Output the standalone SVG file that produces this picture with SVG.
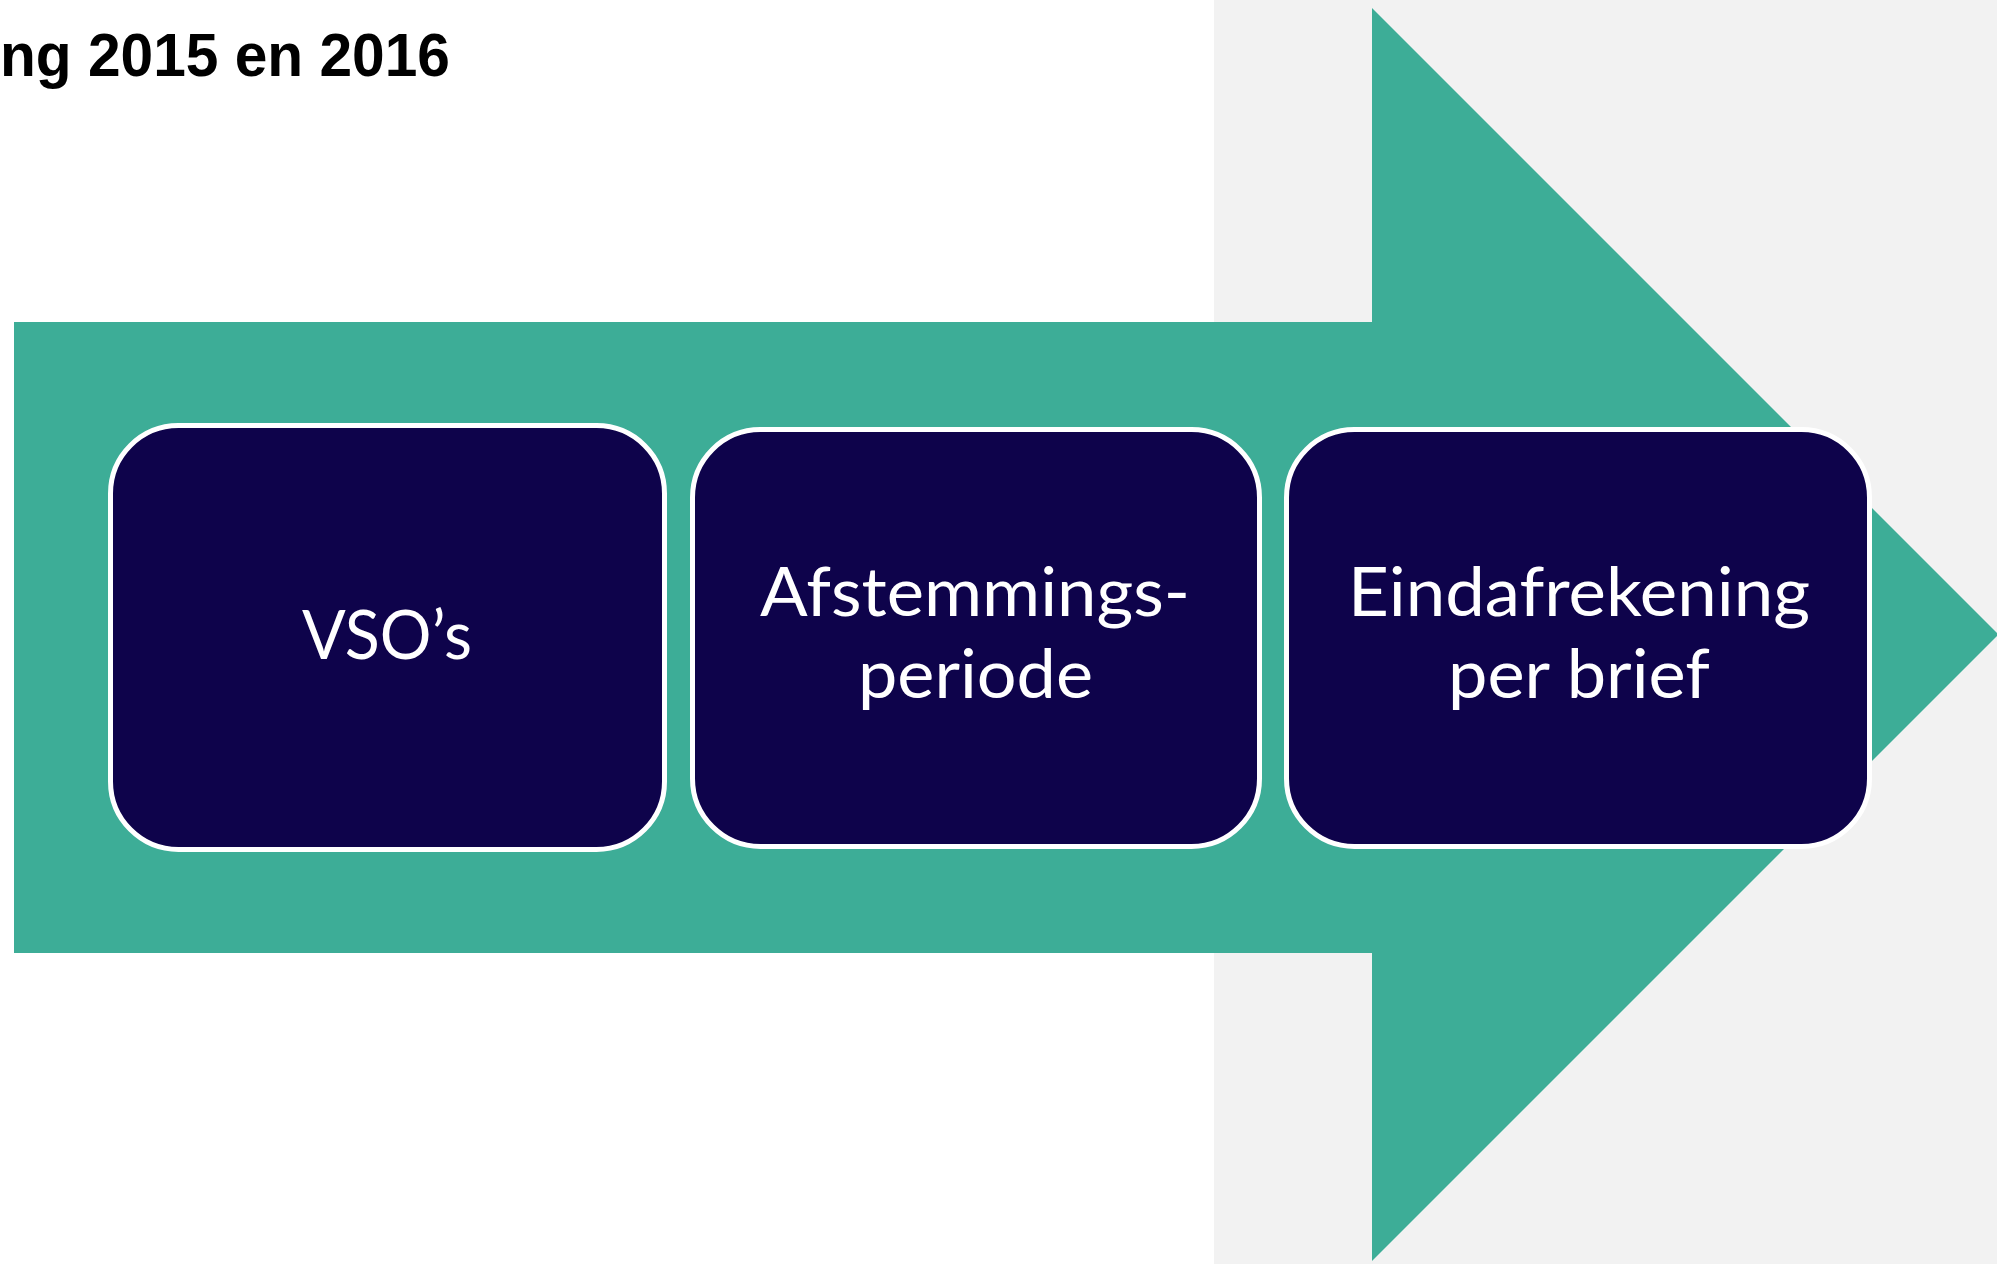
<svg xmlns="http://www.w3.org/2000/svg" width="1997" height="1264" viewBox="0 0 1997 1264">
  <style>
    .box { fill: #0E034B; stroke: #FFFFFF; stroke-width: 5; }
    .lbl { fill: #FFFFFF; font-family: Lato, "Open Sans", "Noto Sans", sans-serif; font-size: 67px; }
    .title { fill: #000000; font-family: "Liberation Sans", Arial, sans-serif; font-weight: bold; font-size: 62px; }
  </style>
  <rect x="0" y="0" width="1997" height="1264" fill="#FFFFFF"/>
  <rect x="1214" y="0" width="783" height="1264" fill="#F2F2F2"/>
  <text class="title" x="0" y="76" textLength="450" lengthAdjust="spacingAndGlyphs">ng 2015 en 2016</text>
  <g id="arrow">
    <polygon points="14,322 1372,322 1372,8 1998.5,634.5 1372,1261 1372,953 14,953" fill="#3DAD97"/>
  </g>
  <g id="connectors"></g>
  <g id="node-vsos">
    <rect class="box" x="110.5" y="425.5" width="554" height="424" rx="68" ry="68"/>
    <text class="lbl" x="302" y="659" textLength="170" lengthAdjust="spacingAndGlyphs">VSO’s</text>
  </g>
  <g id="node-afstemming">
    <rect class="box" x="692.5" y="429.5" width="567" height="417" rx="68" ry="68"/>
    <text class="lbl" x="760" y="616" textLength="430" lengthAdjust="spacingAndGlyphs">Afstemmings-</text>
    <text class="lbl" x="858" y="698" textLength="235" lengthAdjust="spacingAndGlyphs">periode</text>
  </g>
  <g id="node-eindafrekening">
    <rect class="box" x="1286.5" y="429.5" width="583" height="417" rx="68" ry="68"/>
    <text class="lbl" x="1348" y="616" textLength="462" lengthAdjust="spacingAndGlyphs">Eindafrekening</text>
    <text class="lbl" x="1448" y="698" textLength="262" lengthAdjust="spacingAndGlyphs">per brief</text>
  </g>
</svg>
